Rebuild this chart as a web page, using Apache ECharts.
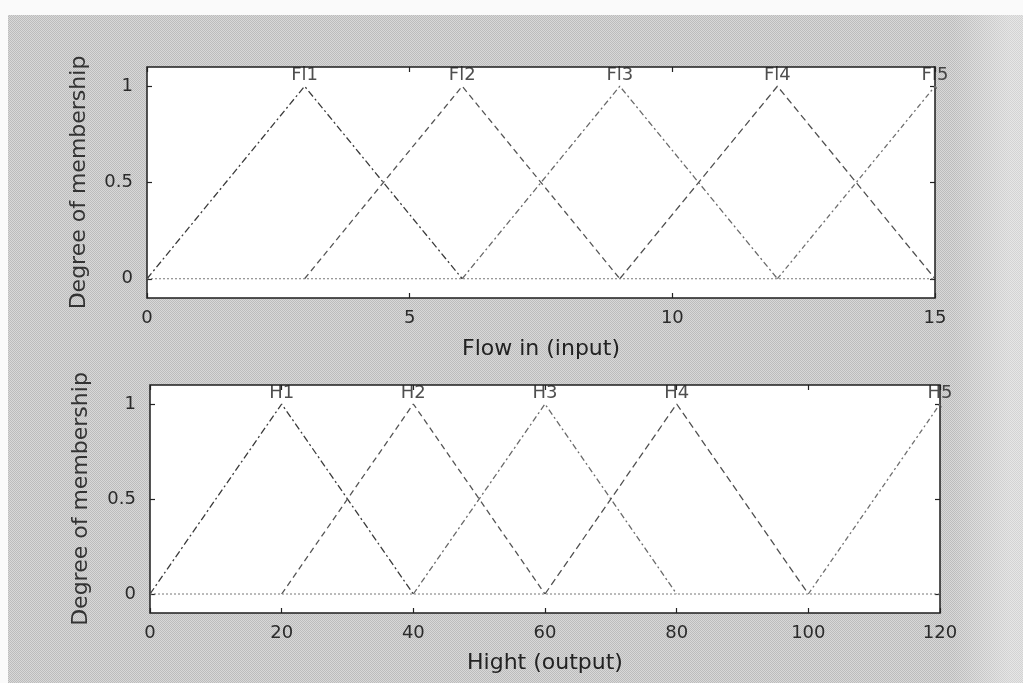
<!DOCTYPE html>
<html>
<head>
<meta charset="utf-8">
<script src="https://cdn.jsdelivr.net/npm/echarts@6/dist/echarts.min.js"></script>
<style>
  html, body { margin: 0; padding: 0; background: #fafafa; }
  #bg {
    position: absolute; left: 8px; top: 15px; width: 1015px; height: 668px;
    background-color: #cacaca;
    background-image:
      linear-gradient(to right, rgba(255,255,255,0) 0px, rgba(255,255,255,0) 945px, rgba(255,255,255,0.35) 1000px),
      repeating-conic-gradient(#bcbcbc 0% 25%, #d8d8d8 0% 50%);
    background-size: 100% 100%, 2px 2px;
  }
  #chart { position: absolute; left: 0; top: 0; width: 1023px; height: 683px; }
</style>
</head>
<body>
<div id="bg"></div>
<div id="chart"></div>
<script>
// ---- data ----
const flowNames = ['Fl1', 'Fl2', 'Fl3', 'Fl4', 'Fl5'];
const flowParams = [[0, 3, 6], [3, 6, 9], [6, 9, 12], [9, 12, 15], [12, 15, 18]];
const hightNames = ['H1', 'H2', 'H3', 'H4', 'H5'];
const hightParams = [[0, 20, 40], [20, 40, 60], [40, 60, 80], [60, 80, 100], [100, 120, 140]];
const flowRange = [0, 15];
const hightRange = [0, 120];
const yTicks = [0, 0.5, 1];
const yRange = [-0.1, 1.1];

const FONT = 'DejaVu Sans';
const lineStyles = [
  { color: '#3a3a3a', type: [7, 3, 2, 3] },
  { color: '#555555', type: [6, 4] },
  { color: '#6a6a6a', type: [6, 3, 2, 3] },
  { color: '#505050', type: [7, 4] },
  { color: '#707070', type: [5, 3, 2, 3] }
];

function mkX(gridIndex, range, interval, pos, showLabels, name, nameGap) {
  return {
    type: 'value', gridIndex, position: pos, min: range[0], max: range[1], interval,
    axisLine: { show: false, onZero: false },
    axisTick: { show: true, inside: true, length: 5, lineStyle: { color: '#222', width: 1.2 } },
    axisLabel: { show: showLabels, margin: 11, color: '#2a2a2a', fontFamily: FONT, fontSize: 18 },
    splitLine: { show: false },
    name: name || '', nameLocation: 'middle', nameGap: nameGap || 0,
    nameTextStyle: { color: '#222', fontFamily: FONT, fontSize: 22 }
  };
}
function mkY(gridIndex, pos, showLabels, name, nameGap) {
  return {
    type: 'value', gridIndex, position: pos, min: yRange[0], max: yRange[1],
    axisLine: { show: false, onZero: false },
    axisTick: { show: true, inside: true, length: 5, customValues: yTicks, lineStyle: { color: '#222', width: 1.2 } },
    axisLabel: { show: showLabels, margin: 14, customValues: yTicks, color: '#2a2a2a', fontFamily: FONT, fontSize: 18,
      formatter: v => String(v) },
    splitLine: { show: false },
    name: name || '', nameLocation: 'middle', nameGap: nameGap || 0, nameRotate: 90,
    nameTextStyle: { color: '#333', fontFamily: FONT, fontSize: 22 }
  };
}

const series = [];
function addPlot(names, params, range, xIdx, yIdx) {
  params.forEach((p, i) => {
    series.push({
      type: 'line', xAxisIndex: xIdx, yAxisIndex: yIdx, showSymbol: false, clip: true,
      silent: true, animation: false,
      lineStyle: { width: 1.3, color: lineStyles[i].color, type: lineStyles[i].type },
      data: [[p[0], 0], [p[1], 1], [p[2], 0]]
    });
  });
  // baseline at zero
  series.push({
    type: 'line', xAxisIndex: xIdx, yAxisIndex: yIdx, showSymbol: false, silent: true, animation: false,
    lineStyle: { width: 1, color: '#777', type: [2, 2] },
    data: [[range[0], 0], [range[1], 0]]
  });
  // MF names above peaks
  series.push({
    type: 'scatter', xAxisIndex: xIdx, yAxisIndex: yIdx, symbolSize: 1, silent: true, animation: false,
    clip: false,
    itemStyle: { color: 'rgba(0,0,0,0)' },
    label: { show: true, position: 'top', distance: 1, color: '#222', fontFamily: FONT, fontSize: 18,
      formatter: d => d.value[2] },
    data: params.map((p, i) => [p[1], 1, names[i]])
  });
}
addPlot(flowNames, flowParams, flowRange, 0, 0);
addPlot(hightNames, hightParams, hightRange, 2, 2);

const chart = echarts.init(document.getElementById('chart'), null, { renderer: 'canvas' });
chart.setOption({
  backgroundColor: 'transparent',
  animation: false,
  grid: [
    { left: 147, top: 67, width: 788, height: 231, show: true, backgroundColor: '#ffffff', borderColor: '#1e1e1e', borderWidth: 1.5 },
    { left: 150, top: 385, width: 790, height: 228, show: true, backgroundColor: '#ffffff', borderColor: '#1e1e1e', borderWidth: 1.5 }
  ],
  xAxis: [
    mkX(0, flowRange, 5, 'bottom', true, 'Flow in (input)', 40),
    mkX(0, flowRange, 5, 'top', false),
    mkX(1, hightRange, 20, 'bottom', true, 'Hight (output)', 39),
    mkX(1, hightRange, 20, 'top', false)
  ],
  yAxis: [
    mkY(0, 'left', true, 'Degree of membership', 57),
    mkY(0, 'right', false),
    mkY(1, 'left', true, 'Degree of membership', 58),
    mkY(1, 'right', false)
  ],
  series
});
</script>
</body>
</html>
